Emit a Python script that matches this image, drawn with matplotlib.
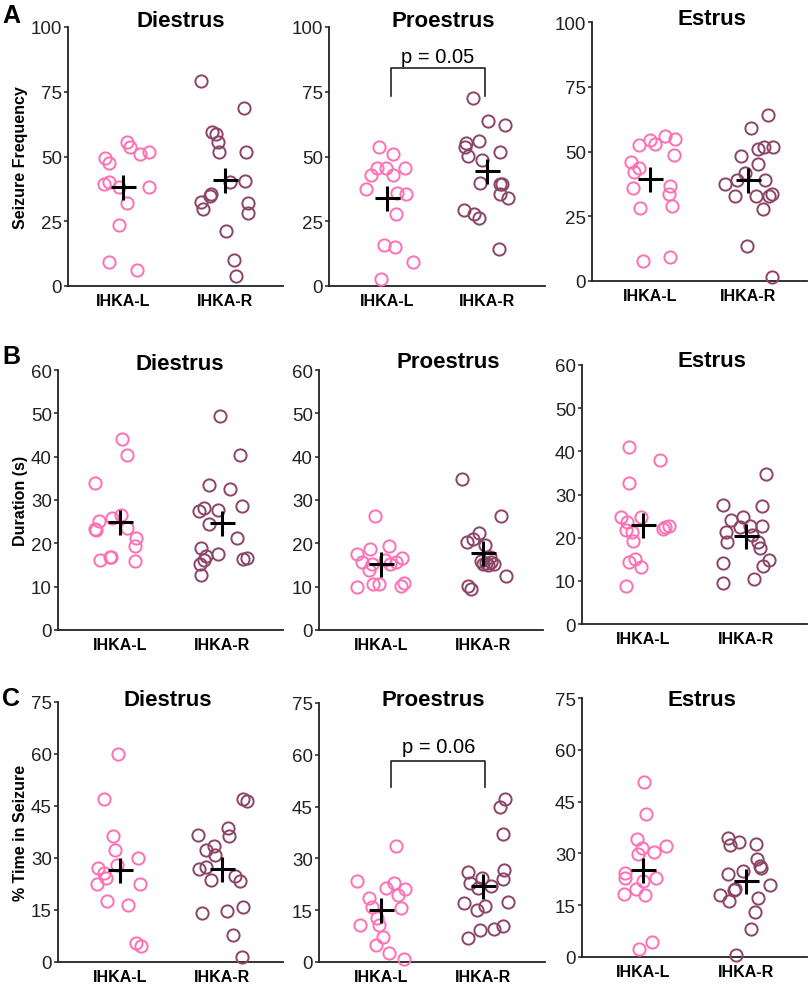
import numpy as np
import matplotlib
matplotlib.use("Agg")
import matplotlib.pyplot as plt

plt.rcParams["font.family"] = ["Liberation Sans", "DejaVu Sans"]

groups = ["IHKA-L", "IHKA-R"]
phases = ["Diestrus", "Proestrus", "Estrus"]

# --- seizure frequency -------------------------------------------------------
freq_di_L = [49.3, 47.4, 55.5, 53.8, 51.0, 51.9, 39.4, 40.1, 38.1, 38.4, 32.1, 23.7, 9.2, 6.0]
freq_di_L_jit = [-0.18, -0.14, 0.04, 0.07, 0.17, 0.25, -0.19, -0.14, -0.04, 0.25, 0.04, -0.04, -0.14, 0.14]
freq_di_R = [79.2, 68.9, 59.3, 58.7, 55.7, 51.9, 51.6, 40.3, 40.7, 35.6, 34.9, 32.3, 29.8, 32.1, 28.2, 21.4, 9.9, 3.7]
freq_di_R_jit = [-0.24, 0.19, -0.13, -0.09, -0.07, -0.06, 0.21, 0.05, 0.20, -0.14, -0.15, -0.24, -0.22, 0.23, 0.23, 0.01, 0.09, 0.11]

freq_pro_L = [53.8, 50.8, 45.7, 45.7, 45.7, 42.9, 42.7, 37.6, 36.0, 35.6, 27.7, 15.7, 15.2, 9.4, 2.8]
freq_pro_L_jit = [-0.08, 0.06, -0.10, -0.01, 0.18, -0.16, 0.06, -0.21, 0.10, 0.19, 0.09, -0.03, 0.08, 0.26, -0.06]
freq_pro_R = [72.7, 63.7, 62.2, 55.3, 56.0, 53.7, 50.2, 48.5, 51.7, 39.9, 39.5, 39.3, 35.4, 34.1, 29.3, 27.9, 26.4, 14.2]
freq_pro_R_jit = [-0.14, 0.01, 0.18, -0.21, -0.08, -0.22, -0.19, -0.05, 0.13, -0.07, 0.13, 0.15, 0.13, 0.21, -0.23, -0.13, -0.08, 0.12]

freq_est_L = [52.4, 54.6, 52.8, 55.9, 55.0, 48.5, 45.9, 43.6, 42.1, 36.0, 36.6, 33.7, 28.2, 29.0, 7.7, 9.3]
freq_est_L_jit = [-0.11, 0.0, 0.05, 0.15, 0.25, 0.24, -0.19, -0.11, -0.16, -0.17, 0.20, 0.19, -0.10, 0.22, -0.07, 0.20]
freq_est_R = [64.2, 59.1, 48.3, 50.8, 51.7, 51.7, 45.0, 41.8, 38.9, 37.3, 32.8, 32.8, 39.1, 32.8, 33.7, 27.7, 13.5, 1.5]
freq_est_R_jit = [0.20, 0.03, -0.07, 0.10, 0.16, 0.25, 0.10, -0.03, -0.12, -0.24, -0.14, 0.08, 0.17, 0.21, 0.24, 0.15, -0.01, 0.24]

# --- duration (s) --------------------------------------------------------------
dur_di_L = [44.0, 40.3, 34.0, 25.2, 23.2, 23.1, 25.8, 26.5, 23.5, 21.3, 19.4, 16.2, 16.9, 16.9, 15.9]
dur_di_L_jit = [0.02, 0.07, -0.25, -0.21, -0.25, -0.24, -0.08, 0.01, 0.07, 0.16, 0.15, -0.20, -0.10, -0.09, 0.15]
dur_di_R = [49.5, 40.3, 33.5, 32.5, 27.5, 28.2, 27.7, 28.6, 24.4, 21.2, 19.0, 17.1, 17.5, 15.2, 16.2, 16.3, 16.7, 12.6]
dur_di_R_jit = [-0.02, 0.18, -0.12, 0.08, -0.22, -0.17, -0.04, 0.20, -0.12, 0.15, -0.20, -0.15, -0.04, -0.21, -0.17, 0.21, 0.25, -0.20]

dur_pro_L = [26.3, 17.5, 18.6, 19.5, 15.7, 15.3, 13.8, 16.2, 15.7, 16.7, 15.2, 9.9, 10.7, 10.7, 10.2, 10.9]
dur_pro_L_jit = [-0.06, -0.23, -0.11, 0.08, -0.19, -0.09, -0.12, 0.04, 0.15, 0.21, 0.09, -0.23, -0.08, -0.02, 0.20, 0.22]
dur_pro_R = [34.8, 26.2, 22.3, 20.2, 20.9, 19.7, 16.9, 15.9, 15.5, 15.7, 15.2, 14.9, 15.3, 12.5, 10.2, 9.4]
dur_pro_R_jit = [-0.21, 0.17, -0.04, -0.16, -0.10, 0.02, 0.07, -0.02, 0.03, 0.08, 0.0, 0.05, 0.10, 0.22, -0.15, -0.12]

dur_est_L = [41.1, 37.9, 32.6, 24.7, 23.7, 24.7, 21.7, 21.2, 19.3, 22.0, 22.4, 22.6, 14.3, 15.0, 13.3, 8.9]
dur_est_L_jit = [-0.14, 0.16, -0.14, -0.22, -0.16, -0.02, -0.17, -0.11, -0.10, 0.19, 0.21, 0.25, -0.14, -0.08, -0.02, -0.17]
dur_est_R = [34.7, 27.6, 27.4, 24.1, 24.7, 22.4, 22.7, 22.6, 21.4, 19.1, 20.6, 18.9, 17.7, 14.9, 13.5, 14.1, 9.6, 10.4]
dur_est_R_jit = [0.20, -0.22, 0.16, -0.14, -0.03, -0.06, 0.04, 0.16, -0.19, -0.18, 0.06, 0.12, 0.14, 0.23, 0.17, -0.22, -0.22, 0.08]

# --- % time in seizure ---------------------------------------------------------
pct_di_L = [60.1, 47.1, 36.3, 32.2, 30.1, 27.2, 27.9, 25.8, 24.3, 22.4, 22.6, 17.5, 16.5, 5.6, 4.6]
pct_di_L_jit = [-0.02, -0.16, -0.07, -0.05, 0.18, -0.22, -0.03, -0.16, -0.14, -0.23, 0.20, -0.13, 0.08, 0.16, 0.21]
pct_di_R = [47.1, 46.4, 38.7, 36.3, 36.5, 33.5, 32.2, 30.8, 26.9, 27.4, 23.6, 24.8, 23.3, 14.2, 14.6, 15.9, 7.9, 1.4]
pct_di_R_jit = [0.21, 0.25, 0.06, 0.07, -0.23, -0.08, -0.15, -0.07, -0.22, -0.15, -0.11, 0.13, 0.18, -0.19, 0.05, 0.21, 0.11, 0.20]

pct_pro_L = [33.6, 23.6, 22.9, 21.4, 21.2, 19.3, 18.5, 15.9, 15.6, 12.7, 10.6, 10.6, 7.2, 4.8, 2.7, 0.8]
pct_pro_L_jit = [0.15, -0.23, 0.13, 0.05, 0.23, 0.17, -0.12, -0.09, 0.20, -0.04, -0.02, -0.21, 0.02, -0.05, 0.08, 0.22]
pct_pro_R = [47.1, 44.8, 37.1, 26.2, 26.7, 23.0, 24.3, 23.9, 21.4, 22.0, 17.2, 17.4, 15.2, 16.2, 6.9, 9.4, 9.5, 10.3]
pct_pro_R_jit = [0.21, 0.16, 0.19, -0.15, 0.20, -0.13, -0.01, 0.19, -0.05, 0.08, -0.19, 0.24, -0.06, 0.02, -0.15, -0.03, 0.10, 0.19]

pct_est_L = [50.7, 41.3, 34.1, 31.7, 29.9, 30.4, 32.0, 24.3, 23.0, 21.9, 22.9, 19.8, 17.9, 18.1, 2.4, 4.2]
pct_est_L_jit = [0.01, 0.03, -0.06, -0.01, -0.05, 0.10, 0.22, -0.18, -0.18, 0.0, 0.12, -0.07, 0.02, -0.19, -0.04, 0.08]
pct_est_R = [34.6, 32.3, 33.3, 32.6, 28.5, 26.4, 25.9, 24.9, 24.1, 19.8, 19.5, 17.9, 16.2, 17.2, 20.8, 13.0, 8.0, 0.5]
pct_est_R_jit = [-0.18, -0.16, -0.07, 0.10, 0.11, 0.14, 0.15, -0.03, -0.18, -0.11, -0.12, -0.25, -0.17, 0.12, 0.23, 0.09, 0.05, -0.10]

rows = [
    ("A", "Seizure Frequency", 100, [0, 25, 50, 75, 100],
     [(freq_di_L, freq_di_L_jit, freq_di_R, freq_di_R_jit),
      (freq_pro_L, freq_pro_L_jit, freq_pro_R, freq_pro_R_jit),
      (freq_est_L, freq_est_L_jit, freq_est_R, freq_est_R_jit)]),
    ("B", "Duration (s)", 60, [0, 10, 20, 30, 40, 50, 60],
     [(dur_di_L, dur_di_L_jit, dur_di_R, dur_di_R_jit),
      (dur_pro_L, dur_pro_L_jit, dur_pro_R, dur_pro_R_jit),
      (dur_est_L, dur_est_L_jit, dur_est_R, dur_est_R_jit)]),
    ("C", "% Time in Seizure", 75, [0, 15, 30, 45, 60, 75],
     [(pct_di_L, pct_di_L_jit, pct_di_R, pct_di_R_jit),
      (pct_pro_L, pct_pro_L_jit, pct_pro_R, pct_pro_R_jit),
      (pct_est_L, pct_est_L_jit, pct_est_R, pct_est_R_jit)]),
]

# significance brackets: (row, col) -> (label, x0, x1, top, bottom, text_x, text_y)
brackets = {
    (0, 1): ("p = 0.05", 0.04, 0.98, 84.3, 73.4, 0.51, 86.5),
    (2, 1): ("p = 0.06", 0.10, 1.02, 58.3, 50.6, 0.56, 60.7),
}

W, H = 810, 987
COL_L, COL_R = "#ff6fb5", "#8c4468"

# pixel layout: left, right, top, bottom of axes, centre of L / R groups
layout = [
    [(68, 283, 28, 287, 123, 225), (329, 545, 28, 287, 386.7, 486.7), (592, 807, 23, 282, 650, 748.3)],
    [(58, 283, 371, 631, 120, 221.7), (319, 543, 371, 631, 381, 483.3), (582, 807, 366, 625, 643.3, 745.7)],
    [(58, 283, 703, 963, 120, 221.7), (319, 545, 704, 963, 381, 483.3), (582, 807, 699, 958, 643.3, 746)],
]
# title centre x and baseline y (px)
title_pos = [
    [(181, 27), (443, 27), (712, 25)],
    [(180, 370), (448, 368), (712, 367)],
    [(168, 706), (433, 706), (702, 706)],
]
letter_pos = [(2, 23), (2, 364), (2, 706)]

fig = plt.figure(figsize=(W / 100, H / 100), dpi=100)

for r, (letter, ylabel, ymax, yticks, panels) in enumerate(rows):
    fig.text(letter_pos[r][0] / W, 1 - letter_pos[r][1] / H, letter,
             fontsize=18, fontweight="bold", va="baseline", ha="left")
    for c, (vl, jl, vr, jr) in enumerate(panels):
        left, right, top, bottom, cl, cr = layout[r][c]
        ax = fig.add_axes([left / W, 1 - bottom / H, (right - left) / W, (bottom - top) / H])
        u = cr - cl
        ax.set_xlim((left - cl) / u, 1 + (right - cr) / u)
        ax.set_ylim(0, ymax)

        for i, (vals, jit, col) in enumerate([(vl, jl, COL_L), (vr, jr, COL_R)]):
            xs = i + np.array(jit)
            ax.plot(xs, vals, "o", ms=8.8, mfc="none", mec=col, mew=1.4,
                    clip_on=False, zorder=3)
            ax.plot([i], [np.mean(vals)], marker="+", ms=18, mew=2.2,
                    color="black", zorder=5)

        for s in ("top", "right"):
            ax.spines[s].set_visible(False)
        for s in ("left", "bottom"):
            ax.spines[s].set_linewidth(1.3)
            ax.spines[s].set_color("#222222")
        ax.set_yticks(yticks)
        ax.tick_params(axis="y", length=3, width=1.1, labelsize=13.5,
                       pad=1.5, colors="#222222")
        ax.set_xticks([0, 1])
        ax.set_xticklabels(groups, fontsize=11.5, fontweight="bold")
        ax.tick_params(axis="x", length=0, pad=5)
        if c == 0:
            ax.set_ylabel(ylabel, fontsize=11.5, fontweight="bold", labelpad=2)

        tx, ty = title_pos[r][c]
        fig.text(tx / W, 1 - ty / H, phases[c], fontsize=16, fontweight="bold",
                 ha="center", va="baseline")

        if (r, c) in brackets:
            lab, x0, x1, btop, bbot, txx, tyy = brackets[(r, c)]
            ax.plot([x0, x0, x1, x1], [bbot, btop, btop, bbot], color="#222222",
                    lw=1.2, clip_on=False)
            ax.text(txx, tyy, lab, fontsize=14.5, ha="center", va="baseline")

fig.savefig("out.png", dpi=100)
